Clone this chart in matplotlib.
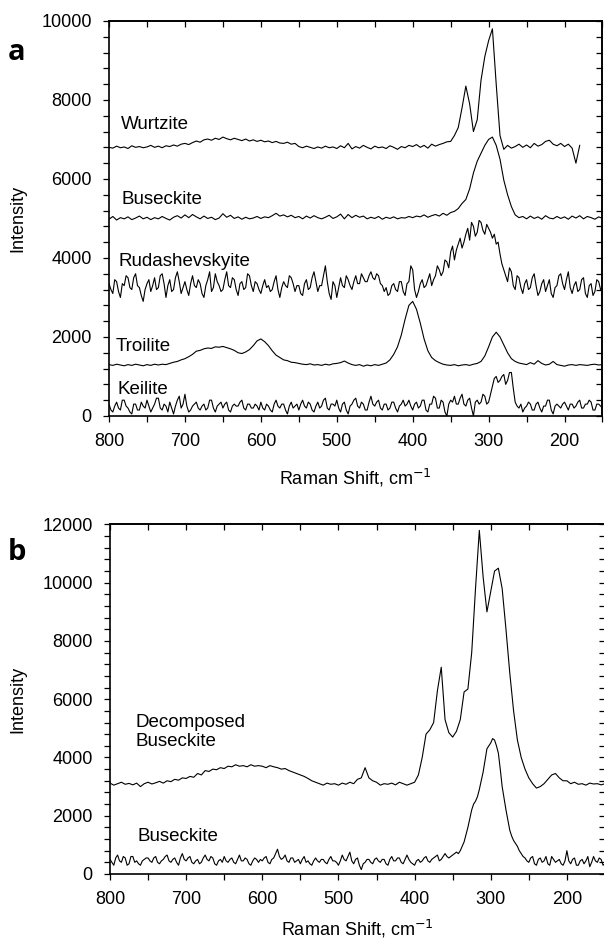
import numpy as np
import matplotlib
matplotlib.use("Agg")
import matplotlib.pyplot as plt
from matplotlib.ticker import MultipleLocator

# Raman shift grids, cm^-1 (values every 5 or 2.5 cm^-1)
shift = np.arange(800, 149, -5)
shift_fine = np.arange(800, 149, -2.5)
nan = np.nan

# ---- panel a ----
wurtzite = [
    6800, 6780, 6830, 6790, 6810, 6770, 6840, 6800, 6820, 6790,
    6810, 6850, 6800, 6830, 6790, 6840, 6820, 6860, 6830, 6880,
    6900, 6870, 6920, 6960, 6930, 6990, 7010, 6980, 7030, 7000,
    7060, 7020, 6990, 7030, 7000, 6970, 7010, 6960, 6990, 6950,
    6980, 6940, 6960, 6920, 6950, 6910, 6900, 6930, 6880, 6900,
    6820, 6790, 6830, 6800, 6770, 6810, 6780, 6830, 6790, 6810,
    6770, 6840, 6790, 6900, 6760, 6820, 6780, 6850, 6800, 6760,
    6830, 6790, 6810, 6770, 6840, 6800, 6750, 6820, 6790, 6850,
    6820, 6870, 6800, 6850, 6780, 6880, 6830, 6870, 6900, 6940,
    6950, 7100, 7300, 7800, 8350, 7900, 7200, 7500, 8500, 9100,
    9500, 9800, 8400, 7100, 6750, 6850, 6780, 6820, 6880, 6800,
    6860, 6790, 6900, 6830, 6870, 6950, 6980, 6880, 6840, 6900,
    6820, 6880, 6780, 6400, 6850, nan, nan, nan, nan, nan,
    nan,
]

buseckite_a = [
    4980, 5050, 4960, 5020, 4990, 5040, 4970, 5010, 5060, 4990,
    5030, 4970, 5020, 4990, 5050, 5000, 4960, 5030, 5070, 5010,
    5090, 5020, 5100, 5040, 4990, 5060, 5000, 5030, 4970, 5010,
    5120, 5030, 5080, 5000, 5040, 4980, 5030, 4990, 5010, 5050,
    5000, 5040, 5020, 5070, 5130, 5060, 5090, 5040, 5080, 5020,
    5050, 4990, 5060, 5010, 5070, 5020, 4990, 5030, 5080, 5000,
    5040, 5110, 4990, 5100, 5020, 5080, 5030, 5060, 4990, 5030,
    5000, 5050, 4980, 5030, 5000, 5040, 4990, 5020, 5010, 5050,
    5020, 5060, 5040, 5090, 5030, 5070, 5100, 5060, 5130, 5080,
    5150, 5180, 5250, 5380, 5480, 5750, 6150, 6450, 6650, 6850,
    7000, 7060, 6850, 6500, 5970, 5600, 5300, 5090, 5020, 5050,
    4990, 5060, 5000, 5040, 4980, 5070, 5010, 4990, 5050, 5000,
    5040, 4980, 5060, 5010, 5070, 4990, 5050, 5020, 4980, 5040,
    5000,
]

# 2.5 cm^-1 steps, 20 values per row = 50 cm^-1
rudashevskyite = [
    3350, 3200, 3100, 3450, 3400, 3150, 3000, 3350, 3300, 3550, 3500, 3250, 3200, 3500, 3600, 3300, 3250, 3050, 2900, 3200,
    3350, 3450, 3150, 3300, 3500, 3200, 3250, 3550, 3600, 3350, 3000, 3300, 3450, 3150, 3200, 3500, 3650, 3400, 3100, 3250,
    3400, 3200, 3050, 3350, 3550, 3300, 3250, 3450, 3350, 3100, 3000, 3300, 3450, 3650, 3150, 3250, 3600, 3400, 3300, 3150,
    3200, 3450, 3650, 3300, 3250, 3500, 3450, 3200, 3050, 3350, 3400, 3200, 3250, 3600, 3550, 3300, 3150, 3400, 3350, 3200,
    3100, 3300, 3450, 3250, 3300, 3150, 3200, 3400, 3550, 3200, 3000, 3250, 3400, 3300, 3250, 3550, 3500, 3350, 3150, 3300,
    3300, 3100, 3050, 3350, 3450, 3200, 3250, 3500, 3650, 3400, 3150, 3300, 3300, 3550, 3800, 3400, 3100, 2950, 3400, 3300,
    3000, 3250, 3500, 3300, 3250, 3550, 3450, 3300, 3200, 3400, 3550, 3350, 3350, 3600, 3500, 3400, 3400, 3550, 3650, 3500,
    3450, 3600, 3550, 3350, 3300, 3150, 3250, 3050, 3100, 3300, 3350, 3200, 3150, 3400, 3400, 3150, 3050, 3350, 3400, 3800,
    3700, 3200, 3000, 3150, 3350, 3450, 3250, 3300, 3450, 3600, 3300, 3450, 3550, 3800, 3700, 3550, 3650, 3950, 3900, 3750,
    4150, 4300, 3950, 4200, 4350, 4500, 4250, 4400, 4600, 4750, 4450, 4900, 4800, 4550, 4650, 4950, 4900, 4700, 4600, 4850,
    4750, 4650, 4500, 4600, 4350, 4400, 4100, 3850, 3700, 3550, 3400, 3750, 3650, 3300, 3200, 3550, 3500, 3250, 3100, 3350,
    3450, 3200, 3250, 3500, 3600, 3300, 3050, 3150, 3350, 3450, 3150, 3300, 3450, 3100, 3000, 3250, 3300, 3550, 3600, 3350,
    3200, 3450, 3650, 3250, 3100, 3300, 3400, 3150, 3200, 3450, 3500, 3100, 3000, 3300, 3350, 3050, 3150, 3450, 3400, 3200,
    3250,
]

troilite = [
    1300, 1280, 1310, 1290, 1270, 1300, 1280, 1310, 1290, 1270,
    1300, 1280, 1310, 1290, 1310, 1300, 1330, 1360, 1380, 1420,
    1450, 1500, 1560, 1640, 1660, 1700, 1720, 1710, 1750, 1740,
    1760, 1730, 1700, 1660, 1600, 1580, 1620, 1680, 1780, 1900,
    1950, 1880, 1780, 1650, 1540, 1480, 1420, 1400, 1360, 1350,
    1330, 1310, 1300, 1320, 1290, 1300, 1280, 1310, 1290, 1320,
    1330, 1350, 1390, 1340, 1300, 1280, 1300, 1260, 1290, 1270,
    1300, 1280, 1310, 1340, 1420, 1560, 1750, 2050, 2450, 2800,
    2900, 2700, 2350, 1950, 1650, 1480, 1400, 1350, 1310, 1290,
    1280, 1300, 1270, 1290, 1300, 1280, 1310, 1330, 1380, 1520,
    1750, 2000, 2120, 2000, 1800, 1600, 1450, 1380, 1340, 1320,
    1300, 1350, 1310, 1400, 1330, 1290, 1310, 1380, 1300, 1280,
    1260, 1290, 1300, 1280, 1300, 1290, 1280, 1300, 1310, 1290,
    1300,
]

keilite = [
    300, 150, 100, 250, 350, 200, 150, 400, 400, 250, 200, 100, 50, 300, 300, 150, 150, 350, 250, 200,
    400, 250, 100, 200, 300, 450, 450, 200, 150, 300, 250, 100, 350, 200, 50, 250, 400, 500, 200, 300,
    550, 250, 100, 150, 250, 300, 350, 200, 150, 250, 300, 150, 200, 400, 400, 200, 100, 250, 300, 350,
    200, 300, 350, 150, 100, 250, 300, 250, 250, 350, 400, 200, 150, 300, 300, 200, 200, 300, 250, 150,
    350, 200, 150, 300, 250, 150, 100, 300, 400, 250, 200, 300, 300, 150, 50, 250, 350, 200, 250, 300,
    150, 300, 400, 250, 200, 350, 300, 150, 100, 250, 350, 200, 250, 400, 450, 200, 150, 300, 300, 250,
    400, 200, 100, 300, 350, 150, 50, 250, 300, 400, 450, 250, 200, 350, 300, 150, 150, 350, 500, 300,
    250, 350, 400, 200, 150, 300, 300, 150, 200, 350, 350, 200, 100, 250, 300, 400, 250, 300, 400, 250,
    150, 300, 350, 200, 250, 400, 400, 150, 100, 300, 300, 500, 450, 200, 200, 400, 350, 100, 0, 300,
    400, 350, 500, 300, 300, 450, 550, 300, 250, 400, 450, 200, 0, 350, 400, 300, 350, 550, 500, 300,
    350, 550, 750, 950, 1000, 850, 900, 1000, 1050, 800, 900, 1100, 1100, 700, 350, 250, 200, 300, 100, 200,
    250, 350, 300, 150, 150, 300, 350, 200, 100, 250, 250, 400, 400, 150, 50, 250, 300, 250, 200, 300,
    350, 250, 150, 300, 300, 200, 250, 350, 400, 200, 200, 300, 300, 400, 350, 150, 150, 300, 300, 250,
    200,
]

# ---- panel b ----
decomposed_buseckite = [
    3120, 3050, 3100, 3150, 3080, 3110, 3060, 3120, 3000, 3100,
    3150, 3090, 3130, 3180, 3120, 3200, 3170, 3250, 3220, 3300,
    3280, 3350, 3320, 3450, 3400, 3550, 3520, 3600, 3580, 3650,
    3620, 3700, 3680, 3750, 3700, 3720, 3680, 3750, 3700, 3720,
    3700, 3650, 3720, 3680, 3650, 3600, 3620, 3550, 3500, 3450,
    3400, 3350, 3280, 3200, 3150, 3100, 3050, 3120, 3080, 3100,
    3050, 3120, 3080, 3150, 3100, 3250, 3300, 3650, 3300, 3200,
    3150, 3050, 3100, 3080, 3120, 3060, 3150, 3100, 3050, 3100,
    3150, 3400, 4000, 4800, 4950, 5200, 6300, 7100, 5300, 4850,
    4700, 4900, 5300, 6250, 6350, 7600, 9800, 11800, 10200, 9000,
    9700, 10400, 10500, 9800, 8400, 6900, 5600, 4600, 4000, 3600,
    3300, 3100, 2950, 3000, 3100, 3250, 3400, 3450, 3300, 3200,
    3200, 3100, 3150, 3080, 3100, 3050, 3120, 3090, 3100, 3060,
    3100,
]

buseckite_b = [
    500, 400, 300, 550, 650, 450, 400, 600, 550, 300, 350, 600, 600, 400, 450, 350, 300, 450, 500, 550,
    550, 450, 400, 550, 600, 400, 350, 450, 500, 600, 650, 450, 400, 500, 550, 400, 300, 550, 700, 500,
    450, 550, 600, 400, 350, 450, 500, 350, 400, 550, 650, 500, 450, 600, 550, 350, 300, 450, 500, 400,
    600, 450, 400, 500, 550, 400, 350, 500, 650, 450, 450, 550, 500, 350, 300, 450, 550, 500, 400, 500,
    450, 550, 600, 400, 350, 500, 550, 700, 850, 600, 500, 550, 650, 450, 400, 550, 550, 400, 450, 500,
    350, 500, 600, 400, 450, 350, 300, 450, 550, 450, 400, 500, 500, 400, 350, 500, 600, 450, 450, 400,
    300, 450, 650, 500, 450, 600, 750, 450, 350, 500, 550, 300, 150, 350, 400, 500, 500, 400, 350, 500,
    550, 450, 400, 500, 500, 350, 300, 500, 600, 450, 450, 550, 550, 400, 350, 500, 650, 500, 400, 350,
    300, 450, 500, 400, 450, 550, 600, 450, 400, 500, 550, 600, 650, 450, 500, 600, 700, 600, 550, 600,
    650, 700, 750, 700, 800, 950, 1100, 1350, 1600, 1900, 2200, 2400, 2500, 2650, 2900, 3200, 3500, 3900, 4300, 4400,
    4500, 4650, 4600, 4400, 4150, 3600, 3000, 2600, 2200, 1850, 1500, 1300, 1150, 1050, 950, 800, 700, 600, 550, 450,
    400, 550, 600, 350, 300, 500, 550, 400, 450, 600, 350, 300, 600, 500, 400, 450, 500, 350, 300, 450,
    800, 450, 350, 500, 550, 300, 300, 450, 500, 350, 450, 600, 250, 400, 600, 450, 400, 550, 500, 300,
    350,
]

labels_a = ["Wurtzite", "Buseckite", "Rudashevskyite", "Troilite", "Keilite"]
label_pos_a = [(784, 7390), (783, 5490), (787, 3900), (791, 1770), (789, 660)]

plt.rcParams["font.family"] = ["Liberation Sans", "DejaVu Sans"]


def style_axes(ax, ymax):
    ax.set_xlim(800, 150)
    ax.set_ylim(0, ymax)
    ax.xaxis.set_major_locator(MultipleLocator(100))
    ax.xaxis.set_minor_locator(MultipleLocator(50))
    ax.yaxis.set_major_locator(MultipleLocator(2000))
    ax.yaxis.set_minor_locator(MultipleLocator(400))
    ax.tick_params(which="both", direction="out", length=4, width=0.9,
                   labelsize=13, pad=8.5)
    for sp in ax.spines.values():
        sp.set_linewidth(1.2)

    # top / right ticks point inward, no labels
    top = ax.secondary_xaxis("top")
    top.xaxis.set_major_locator(MultipleLocator(100))
    top.xaxis.set_minor_locator(MultipleLocator(50))
    top.tick_params(which="both", direction="in", length=4, width=0.9,
                    labeltop=False)
    top.spines["top"].set_linewidth(1.2)
    right = ax.secondary_yaxis("right")
    right.yaxis.set_major_locator(MultipleLocator(2000))
    right.yaxis.set_minor_locator(MultipleLocator(400))
    right.tick_params(which="both", direction="in", length=4, width=0.9,
                      labelright=False)
    right.spines["right"].set_linewidth(1.2)

    ax.set_xlabel("Raman Shift, cm$^{-1}$", fontsize=13, va="center")
    ax.set_ylabel("Intensity", fontsize=13, va="center")


fig = plt.figure(figsize=(6.04, 9.43), dpi=100)

# panel a
ax1 = fig.add_axes([0.1805, 0.5589, 0.817, 0.4189])
ax1.plot(shift, wurtzite, color="black", linewidth=0.8)
ax1.plot(shift, buseckite_a, color="black", linewidth=0.8)
ax1.plot(shift_fine, rudashevskyite, color="black", linewidth=0.8)
ax1.plot(shift, troilite, color="black", linewidth=0.8)
ax1.plot(shift_fine, keilite, color="black", linewidth=0.8)
for name, (px, py) in zip(labels_a, label_pos_a):
    ax1.text(px, py, name, ha="left", va="center", fontsize=13.5)
style_axes(ax1, 10000)
ax1.xaxis.set_label_coords(0.5, -0.157)
ax1.yaxis.set_label_coords(-0.184, 0.5)

# panel b
ax2 = fig.add_axes([0.1821, 0.0732, 0.8195, 0.3706])
ax2.plot(shift, decomposed_buseckite, color="black", linewidth=0.8)
ax2.plot(shift_fine, buseckite_b, color="black", linewidth=0.8)
ax2.text(767, 4870, "Decomposed\nBuseckite", ha="left", va="center",
         fontsize=13.5, linespacing=1.1)
ax2.text(764, 1300, "Buseckite", ha="left", va="center", fontsize=13.5)
style_axes(ax2, 12000)
ax2.xaxis.set_label_coords(0.5, -0.158)
ax2.yaxis.set_label_coords(-0.186, 0.5)

fig.text(0.013, 0.9364, "a", fontsize=21, fontweight="bold",
         family="Open Sans", va="baseline")
fig.text(0.013, 0.406, "b", fontsize=21, fontweight="bold",
         family="Open Sans", va="baseline")

fig.savefig("out.png", dpi=100)
